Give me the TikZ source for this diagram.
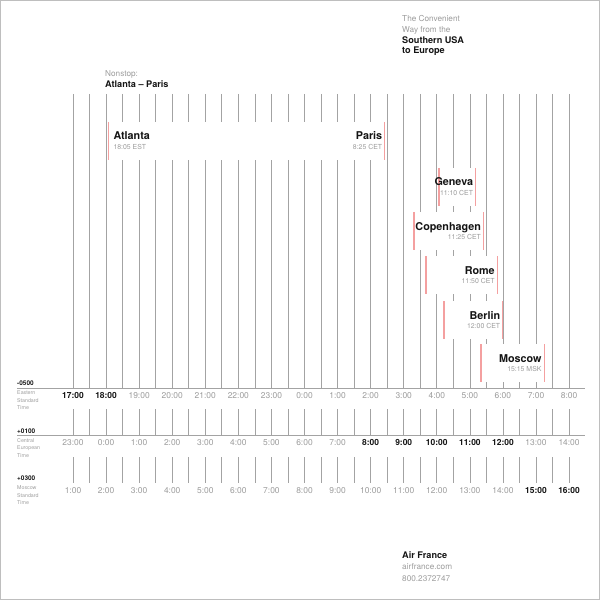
\documentclass[tikz,border=0pt]{standalone}
\usepackage{fontspec}
\setmainfont{TeX Gyre Heros}
\usetikzlibrary{positioning}
\definecolor{rule}{HTML}{A3A3A3}
\definecolor{ash}{HTML}{9C9C9C}
\definecolor{ink}{HTML}{141414}
\definecolor{blush}{HTML}{F4A0A0}
\tikzstyle{hourline} = [draw=rule, line width=0.55pt]
\tikzstyle{axis} = [draw=rule, line width=0.55pt]
\tikzstyle{stopline} = [draw=blush, line width=0.95pt]
\tikzstyle{city} = [inner sep=0pt, text=ink, font=\fontsize{9.2}{11}\selectfont\bfseries]
\tikzstyle{clock} = [inner sep=0pt, text=ash, font=\fontsize{5.9}{7}\selectfont]
\tikzstyle{hron} = [inner sep=0pt, anchor=base, text=ink, font=\fontsize{7.2}{8}\selectfont\bfseries]
\tikzstyle{hroff} = [inner sep=0pt, anchor=base, text=ash, font=\fontsize{7.2}{8}\selectfont]
\tikzstyle{offset} = [inner sep=0pt, anchor=north west, text=ink, font=\fontsize{5.5}{6}\selectfont\bfseries]
\tikzstyle{zone} = [inner sep=0pt, anchor=north west, align=left, text=ash, font=\fontsize{4.5}{6.4}\selectfont]
\tikzstyle{caption} = [inner sep=0pt, anchor=north west, align=left, text=ash, font=\fontsize{7}{9.2}\selectfont]

\begin{document}
\begin{tikzpicture}[x=0.03cm, y=-0.03cm]
    \useasboundingbox (0,0) rectangle (600,600);
    \draw[rule!70, line width=0.6pt] (0.4,0.4) rectangle (599.6,599.6);

    % headings
    \node[caption] (intro) at (402,15.1) {The Convenient\\Way from the\\
        {\color{ink}\fontsize{7.8}{9.2}\selectfont\bfseries Southern USA}\\
        {\color{ink}\fontsize{7.8}{9.2}\selectfont\bfseries to Europe}};
    \node[caption] (nonstop) at (105,70.4) {Nonstop:\\
        {\color{ink}\fontsize{7.8}{9.2}\selectfont\bfseries Atlanta -- Paris}};
    \node[caption, font=\fontsize{7}{9.8}\selectfont] (airline) at (402,551.1) {
        {\color{ink}\fontsize{7.8}{9.8}\selectfont\bfseries Air France}\\
        airfrance.com\\
        800.2372747};

    % half-hour grid
    \foreach \k in {0,...,30} {
        \draw[hourline] ({73+16.535*\k},94) -- ({73+16.535*\k},388);
        \draw[hourline] ({73+16.535*\k},409) -- ({73+16.535*\k},435.5);
        \draw[hourline] ({73+16.535*\k},457) -- ({73+16.535*\k},483);
    }
    \draw[axis] (17,388) -- (585,388);
    \draw[axis] (17,435.5) -- (585,435.5);

    % time zones
    \node[offset] (est) at (17,381) {-0500};
    \node[zone] (est-name) at (17,390.5) {Eastern\\Standard\\Time};
    \node[offset] (cet) at (17,428.5) {+0100};
    \node[zone] (cet-name) at (17,438) {Central\\European\\Time};
    \node[offset] (msk) at (17,476) {+0300};
    \node[zone] (msk-name) at (17,485.5) {Moscow\\Standard\\Time};

    % hour labels
    \foreach \lab/\st [count=\i from 0] in {17:00/hron, 18:00/hron, 19:00/hroff, 20:00/hroff,
        21:00/hroff, 22:00/hroff, 23:00/hroff, 0:00/hroff, 1:00/hroff, 2:00/hroff, 3:00/hroff,
        4:00/hroff, 5:00/hroff, 6:00/hroff, 7:00/hroff, 8:00/hroff}
        \node[\st] (e\i) at ({73+33.07*\i},398.3) {\lab};
    \foreach \lab/\st [count=\i from 0] in {23:00/hroff, 0:00/hroff, 1:00/hroff, 2:00/hroff,
        3:00/hroff, 4:00/hroff, 5:00/hroff, 6:00/hroff, 7:00/hroff, 8:00/hron, 9:00/hron,
        10:00/hron, 11:00/hron, 12:00/hron, 13:00/hroff, 14:00/hroff}
        \node[\st] (c\i) at ({73+33.07*\i},445.8) {\lab};
    \foreach \lab/\st [count=\i from 0] in {1:00/hroff, 2:00/hroff, 3:00/hroff, 4:00/hroff,
        5:00/hroff, 6:00/hroff, 7:00/hroff, 8:00/hroff, 9:00/hroff, 10:00/hroff, 11:00/hroff,
        12:00/hroff, 13:00/hroff, 14:00/hroff, 15:00/hron, 16:00/hron}
        \node[\st] (m\i) at ({73+33.07*\i},493.3) {\lab};

    % nonstop flight
    \fill[white] (108.8,122) rectangle (384.4,160);
    \draw[stopline] (108.8,122) -- (108.8,160) (384.4,122) -- (384.4,160);
    \node[city, anchor=base west] (atlanta) at (113.3,140) {Atlanta};
    \node[clock, anchor=base west] (atlanta-time) at (113.3,149.3) {18:05 EST};
    \node[city, anchor=base east] (paris) at (382.4,140) {Paris};
    \node[clock, anchor=base east] (paris-time) at (382.4,149.3) {8:25 CET};

    % connections from Paris
    \foreach \dep/\arr/\ytop/\town/\clk in {439/475.8/168/Geneva/11:10 CET,
        414/483.6/212/Copenhagen/11:25 CET, 426/497.4/256/Rome/11:50 CET,
        444/502.9/301/Berlin/12:00 CET, 481/544.2/344/Moscow/15:15 MSK} {
        \fill[white] (\dep,\ytop) rectangle (\arr,{\ytop+38});
        \draw[stopline] (\dep,\ytop) -- (\dep,{\ytop+38}) (\arr,\ytop) -- (\arr,{\ytop+38});
        \node[city, anchor=base east] (\town) at ({\arr-2.5},{\ytop+18}) {\town};
        \node[clock, anchor=base east] (\town-time) at ({\arr-2.5},{\ytop+27.5}) {\clk};
    }
\end{tikzpicture}
\end{document}
